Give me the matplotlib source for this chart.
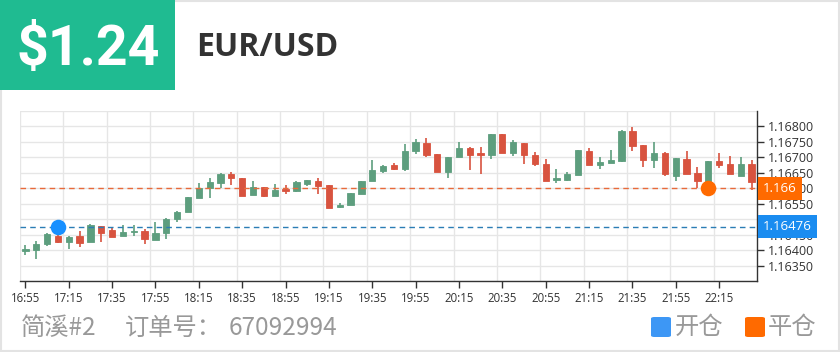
import matplotlib
matplotlib.use("Agg")
import matplotlib.pyplot as plt
from matplotlib import font_manager
from matplotlib.patches import Rectangle, FancyBboxPatch
from matplotlib.transforms import blended_transform_factory

# ---------------- data ----------------
times = ["16:55", "17:00", "17:05", "17:10", "17:15", "17:20", "17:25", "17:30",
         "17:35", "17:40", "17:45", "17:50", "17:55", "18:00", "18:05", "18:10",
         "18:15", "18:20", "18:25", "18:30", "18:35", "18:40", "18:45", "18:50",
         "18:55", "19:00", "19:05", "19:10", "19:15", "19:20", "19:25", "19:30",
         "19:35", "19:40", "19:45", "19:50", "19:55", "20:00", "20:05", "20:10",
         "20:15", "20:20", "20:25", "20:30", "20:35", "20:40", "20:45", "20:50",
         "20:55", "21:00", "21:05", "21:10", "21:15", "21:20", "21:25", "21:30",
         "21:35", "21:40", "21:45", "21:50", "21:55", "22:00", "22:05", "22:10",
         "22:15", "22:20", "22:25", "22:30"]

opens = [1.16396, 1.16399, 1.16421, 1.16447, 1.16426, 1.16447, 1.16426, 1.16479,
         1.16466, 1.16444, 1.16457, 1.16461, 1.16432, 1.16454, 1.16499, 1.16524,
         1.16568, 1.16600, 1.16617, 1.16645, 1.16633, 1.16578, 1.16604, 1.16574,
         1.16598, 1.16590, 1.16613, 1.16622, 1.16609, 1.16539, 1.16547, 1.16582,
         1.16622, 1.16655, 1.16674, 1.16661, 1.16720, 1.16747, 1.16712, 1.16652,
         1.16702, 1.16731, 1.16713, 1.16709, 1.16774, 1.16715, 1.16747, 1.16709,
         1.16680, 1.16628, 1.16628, 1.16642, 1.16720, 1.16674, 1.16681, 1.16688,
         1.16784, 1.16739, 1.16690, 1.16713, 1.16641, 1.16695, 1.16650, 1.16615,
         1.16688, 1.16679, 1.16639, 1.16677]
highs = [1.16415, 1.16431, 1.16454, 1.16452, 1.16444, 1.16461, 1.16486, 1.16479,
         1.16474, 1.16481, 1.16480, 1.16469, 1.16490, 1.16505, 1.16526, 1.16571,
         1.16616, 1.16632, 1.16650, 1.16653, 1.16633, 1.16622, 1.16604, 1.16615,
         1.16610, 1.16622, 1.16628, 1.16634, 1.16609, 1.16551, 1.16585, 1.16625,
         1.16693, 1.16674, 1.16683, 1.16742, 1.16758, 1.16763, 1.16712, 1.16701,
         1.16749, 1.16733, 1.16734, 1.16774, 1.16774, 1.16756, 1.16747, 1.16717,
         1.16695, 1.16661, 1.16652, 1.16723, 1.16731, 1.16702, 1.16723, 1.16790,
         1.16799, 1.16739, 1.16751, 1.16717, 1.16699, 1.16719, 1.16668, 1.16688,
         1.16715, 1.16704, 1.16702, 1.16691]
lows = [1.16384, 1.16370, 1.16413, 1.16422, 1.16404, 1.16411, 1.16426, 1.16427,
        1.16442, 1.16444, 1.16447, 1.16419, 1.16432, 1.16437, 1.16490, 1.16524,
        1.16568, 1.16570, 1.16602, 1.16609, 1.16576, 1.16578, 1.16571, 1.16574,
        1.16582, 1.16587, 1.16607, 1.16582, 1.16537, 1.16537, 1.16547, 1.16582,
        1.16622, 1.16650, 1.16659, 1.16655, 1.16712, 1.16702, 1.16652, 1.16634,
        1.16702, 1.16659, 1.16645, 1.16695, 1.16715, 1.16706, 1.16679, 1.16672,
        1.16623, 1.16618, 1.16623, 1.16642, 1.16674, 1.16663, 1.16681, 1.16684,
        1.16720, 1.16670, 1.16664, 1.16641, 1.16625, 1.16645, 1.16602, 1.16606,
        1.16666, 1.16645, 1.16639, 1.16596]
closes = [1.16404, 1.16421, 1.16451, 1.16426, 1.16443, 1.16424, 1.16481, 1.16456,
          1.16442, 1.16457, 1.16462, 1.16435, 1.16454, 1.16499, 1.16524, 1.16571,
          1.16600, 1.16620, 1.16647, 1.16632, 1.16576, 1.16604, 1.16574, 1.16596,
          1.16591, 1.16620, 1.16628, 1.16608, 1.16537, 1.16547, 1.16585, 1.16625,
          1.16659, 1.16672, 1.16663, 1.16722, 1.16749, 1.16709, 1.16652, 1.16701,
          1.16731, 1.16709, 1.16709, 1.16774, 1.16715, 1.16749, 1.16707, 1.16677,
          1.16625, 1.16634, 1.16645, 1.16723, 1.16674, 1.16684, 1.16693, 1.16784,
          1.16736, 1.16691, 1.16715, 1.16645, 1.16699, 1.16647, 1.16623, 1.16688,
          1.16674, 1.16645, 1.16679, 1.16620]

y_ticks = [1.16350, 1.16400, 1.16450, 1.16500, 1.16550, 1.16600, 1.16650, 1.16700, 1.16750, 1.16800]
y_grid = [1.16300, 1.16350, 1.16400, 1.16450, 1.16500, 1.16550, 1.16600, 1.16650,
          1.16700, 1.16750, 1.16800, 1.16850]
y_min, y_max = 1.16300, 1.16850

open_index, open_price = 3, 1.16476
close_index, close_price = 63, 1.166
price_text = "$1.24"
symbol_text = "EUR/USD"
footer_name = "简溪#2"
footer_label = "订单号："
footer_order = "67092994"
legend_labels = ["开仓", "平仓"]

# ---------------- style ----------------
UP = "#5d9e7e"
DOWN = "#d8533f"
BLUE = "#1890ff"
ORANGE = "#ff6a00"
TEAL = "#1fbb91"

avail = {f.name for f in font_manager.fontManager.ttflist}
big_font = "Liberation Sans Narrow" if "Liberation Sans Narrow" in avail else (
    "DejaVu Sans Condensed" if "DejaVu Sans Condensed" in avail else "Roboto")
big_size = 46 if big_font != "Roboto" else 40
cjk = ["Noto Sans CJK SC", "DejaVu Sans"]
ui = ["Open Sans", "DejaVu Sans"]

W, H = 840, 352
fig = plt.figure(figsize=(W / 100, H / 100), dpi=100)
fig.patch.set_facecolor("white")

def fx(px):
    return px / W

def fy(py):
    return 1 - py / H

# outer border
fig.add_artist(Rectangle((0.0006, 0.0015), 0.9988, 0.997, transform=fig.transFigure,
                         fill=False, edgecolor="#e3e3e3", linewidth=1.5))

# header
fig.add_artist(Rectangle((0, fy(90)), fx(175), 90 / H, transform=fig.transFigure,
                         facecolor=TEAL, edgecolor="none", zorder=2))
fig.text(fx(88), fy(50), price_text, color="white", fontsize=big_size, fontweight="bold",
         family=big_font, ha="center", va="center", zorder=3)
fig.text(fx(196), fy(47), symbol_text, color="#333333", fontsize=23, fontweight="bold",
         family=ui, ha="left", va="center")

# axes
left, right, top, bottom = 20, 757, 111, 281
ax = fig.add_axes([fx(left), fy(bottom), fx(right - left), (bottom - top) / H])
ax.set_facecolor("white")
n = len(times)
ax.set_xlim(-0.5, n - 0.5)
ax.set_ylim(y_min, y_max)

for g in y_grid:
    ax.axhline(g, color="#e6e6e6", linewidth=1, zorder=0)
for i in range(0, n, 4):
    ax.axvline(i - 0.5, color="#e6e6e6", linewidth=1, zorder=0)

for i in range(n):
    o, h, l, c = opens[i], highs[i], lows[i], closes[i]
    col = UP if c >= o else DOWN
    ax.vlines(i, l, h, color=col, linewidth=1.2, zorder=2)
    lo, hi = min(o, c), max(o, c)
    ht = max(hi - lo, 0.000015)
    ax.bar(i, ht, bottom=lo, width=0.58, color=col, edgecolor=col, linewidth=0.6, zorder=3)

ax.axhline(close_price, color="#e86a3a", linewidth=1, linestyle=(0, (4, 3)), zorder=4)
ax.axhline(open_price, color="#2b7db5", linewidth=1, linestyle=(0, (4, 3)), zorder=4)

ax.scatter([open_index], [open_price], s=125, color=BLUE, zorder=6, linewidths=0)
ax.scatter([close_index], [close_price], s=125, color=ORANGE, zorder=6, linewidths=0)

for s in ["top", "left"]:
    ax.spines[s].set_visible(False)
for s in ["right", "bottom"]:
    ax.spines[s].set_color("#333333")
    ax.spines[s].set_linewidth(1)

ax.yaxis.tick_right()
ax.set_yticks(y_ticks)
ax.set_yticklabels([f"{v:.5f}" for v in y_ticks], family=ui, fontsize=9, color="#333333")
ax.tick_params(axis="y", length=5, width=1, color="#333333", pad=3)

xt = list(range(0, n, 4))
ax.set_xticks(xt)
ax.set_xticklabels([times[i] for i in xt], family=ui, fontsize=8.3, color="#333333")
ax.tick_params(axis="x", length=5, width=1, color="#333333", pad=3)

bt = blended_transform_factory(ax.transAxes, ax.transData)
ax.text(1 + 6 / (right - left), close_price, f"{close_price:.3f}", transform=bt,
        color="white", fontsize=9.5, family=ui, ha="left", va="center", clip_on=False,
        zorder=10, bbox=dict(boxstyle="square,pad=0.38", facecolor=ORANGE, edgecolor="none"))
ax.text(1 + 6 / (right - left), open_price, f"{open_price:.5f}", transform=bt,
        color="white", fontsize=9.5, family=ui, ha="left", va="center", clip_on=False,
        zorder=10, bbox=dict(boxstyle="square,pad=0.4", facecolor="#1a8cf0", edgecolor="none"))

# footer
fs = 17.5
fig.text(fx(21), fy(328), footer_name, color="#999999", fontsize=fs, family=cjk, ha="left", va="center")
fig.text(fx(125), fy(328), footer_label, color="#999999", fontsize=fs, family=cjk, ha="left", va="center")
fig.text(fx(229), fy(328), footer_order, color="#999999", fontsize=fs, family=cjk, ha="left", va="center")

for (x0, col, lab, tx) in [(651, "#3d97f5", legend_labels[0], 675), (745, ORANGE, legend_labels[1], 768)]:
    fig.add_artist(FancyBboxPatch((fx(x0), fy(337)), fx(20), 20 / H,
                                  boxstyle="round,pad=0,rounding_size=0.004",
                                  transform=fig.transFigure, facecolor=col, edgecolor="none"))
    fig.text(fx(tx), fy(327), lab, color="#999999", fontsize=fs, family=cjk, ha="left", va="center")

fig.savefig("out.png", dpi=100, facecolor="white")
